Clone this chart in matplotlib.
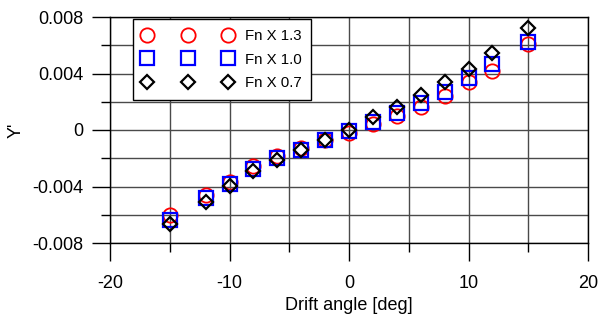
import matplotlib
matplotlib.use("Agg")
import matplotlib.pyplot as plt
from matplotlib.ticker import MultipleLocator, FuncFormatter

plt.rcParams['font.family'] = ['Liberation Sans', 'DejaVu Sans']

# Drift angle sweep and lateral force coefficient Y' for three Froude number scalings
drift_deg = [-15, -12, -10, -8, -6, -4, -2, 0, 2, 4, 6, 8, 10, 12, 15]
y_fn13 = [-0.00600, -0.00457, -0.00368, -0.00257, -0.00186, -0.00130, -0.00068,
          -0.00022, 0.00040, 0.00102, 0.00164, 0.00243, 0.00340, 0.00421, 0.00607]
y_fn10 = [-0.00634, -0.00480, -0.00379, -0.00275, -0.00199, -0.00140, -0.00070,
          -0.00006, 0.00060, 0.00118, 0.00193, 0.00271, 0.00371, 0.00466, 0.00626]
y_fn07 = [-0.00669, -0.00507, -0.00393, -0.00288, -0.00214, -0.00143, -0.00068,
          -0.00002, 0.00090, 0.00160, 0.00245, 0.00338, 0.00433, 0.00545, 0.00721]
labels = ["Fn X 1.3", "Fn X 1.0", "Fn X 0.7"]

fig = plt.figure(figsize=(6.0, 3.23), dpi=100)
ax = fig.add_axes([110 / 600, 1 - 243 / 323, 478 / 600, 226 / 323])

ax.plot(drift_deg, y_fn13, linestyle='none', marker='o', markersize=10.3,
        markerfacecolor='none', markeredgecolor='#ff0000', markeredgewidth=1.3,
        label=labels[0], zorder=3)
ax.plot(drift_deg, y_fn10, linestyle='none', marker='s', markersize=10.3,
        markerfacecolor='none', markeredgecolor='#0000ff', markeredgewidth=1.6,
        label=labels[1], zorder=4)
ax.plot(drift_deg, y_fn07, linestyle='none', marker='D', markersize=7.4,
        markerfacecolor='none', markeredgecolor='#000000', markeredgewidth=1.6,
        label=labels[2], zorder=5)

ax.set_xlim(-20, 20)
ax.set_ylim(-0.008, 0.008)
ax.xaxis.set_major_locator(MultipleLocator(10))
ax.xaxis.set_minor_locator(MultipleLocator(5))
ax.yaxis.set_major_locator(MultipleLocator(0.004))
ax.yaxis.set_minor_locator(MultipleLocator(0.002))


def yfmt(v, pos):
    if abs(v) < 1e-12:
        return "0"
    return f"{v:.3f}"


ax.yaxis.set_major_formatter(FuncFormatter(yfmt))
ax.xaxis.set_major_formatter(FuncFormatter(lambda v, p: f"{v:.0f}"))

ax.grid(True, which='both', color='#4a4a4a', linewidth=1.0)
ax.set_axisbelow(True)

ax.tick_params(axis='both', which='major', direction='out', length=13,
               width=1.0, labelsize=13, color='black')
ax.tick_params(axis='both', which='minor', direction='out', length=6.5,
               width=1.0, color='black')
ax.tick_params(axis='y', which='major', pad=6)
ax.tick_params(axis='x', which='major', pad=10)

for sp in ax.spines.values():
    sp.set_color('black')
    sp.set_linewidth(1.0)

ax.set_xlabel("Drift angle [deg]", fontsize=13)
ax.xaxis.set_label_coords(0.5, -(305 - 243) / 226, transform=ax.transAxes)
ax.xaxis.label.set_va('center')
ax.set_ylabel("Y'", fontsize=13)
ax.yaxis.set_label_coords(-(110 - 16) / 478, 0.5, transform=ax.transAxes)
ax.yaxis.label.set_va('center')

leg = ax.legend(loc='upper left', bbox_to_anchor=(23 / 478, 1 - 2 / 226),
                numpoints=3, handlelength=6.0, handletextpad=0.8,
                labelspacing=0.65, borderpad=0.65, borderaxespad=0.0,
                fontsize=10.8, fancybox=False, framealpha=1.0,
                edgecolor='black')
leg.get_frame().set_linewidth(1.0)

fig.savefig("out.png", dpi=100)
